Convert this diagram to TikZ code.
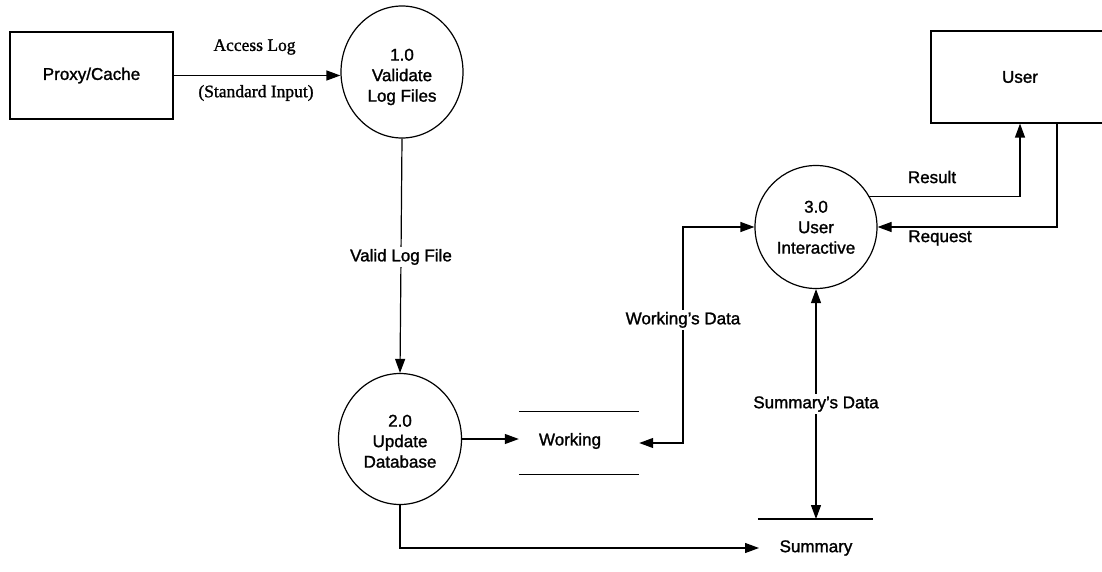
\documentclass[tikz,border=0pt]{standalone}
\usepackage{fontspec}
\setmainfont{Liberation Serif}[UprightFeatures={FakeBold=1.2}]
\setsansfont{Liberation Sans}[UprightFeatures={FakeBold=1.4}]
\usetikzlibrary{shapes.geometric,arrows.meta}
% raises the first line of a process label so its text sits a little low
\newcommand\firstline[1]{\rule{0pt}{#1}}
\begin{document}
\begin{tikzpicture}[x=1pt,y=-1pt,
  every node/.style={font=\sffamily\fontsize{17}{20.5}\selectfont},
  ln/.style={line width=1.2pt},
  tip/.tip={Triangle[length=14pt,width=10pt]},
  flow/.style={ln,-tip},
  both/.style={ln,tip-tip},
  proc/.style={ellipse,draw,line width=1.2pt,inner sep=0pt,align=center},
  ext/.style={rectangle,draw,line width=1.2pt,inner sep=0pt},
  store/.style={rectangle,inner sep=0pt},
  lbl/.style={fill=white,inner sep=2pt},
  serif/.style={font=\rmfamily\fontsize{17.5}{21}\selectfont}]
\useasboundingbox (0,0) rectangle (1102,572);

% external entities
\node[ext,minimum width=163pt,minimum height=87pt] (PC) at (91.5,75.5) {Proxy/Cache};
\node[ext,minimum width=178pt,minimum height=92pt] (U) at (1020,77) {User};

% processes
\node[proc,minimum width=122pt,minimum height=132pt] (P1) at (402,72)
  {\firstline{24.4pt}1.0\\Validate\\Log Files\strut};
\node[proc,minimum width=123pt,minimum height=131pt] (P2) at (400,439)
  {\firstline{22.4pt}2.0\\Update\\Database\strut};
\node[proc,minimum width=122pt,minimum height=123pt] (P3) at (816,227)
  {\firstline{18.4pt}3.0\\User\\Interactive\strut};

% data stores
\node[store,minimum width=120pt,minimum height=62pt] (W) at (579,443) {};
\draw[ln] (W.north west) -- (W.north east);
\draw[ln] (W.south west) -- (W.south east);
\node (Wt) at (570,441) {Working};

\node[store,minimum width=115pt,minimum height=0pt] (S) at (815.5,519) {};
\draw[ln] (S.west) -- (S.east);
\node (St) at (816,548) {Summary};
\coordinate (Sin) at (759,548);

% flows
\draw[flow] (PC.east) -- (PC.east -| P1.west);
\node[serif] (al) at (254.5,47) {Access Log};
\node[serif] (si) at (256,93) {(Standard Input)};

\draw[flow] (P1.south) -- node[lbl,pos=0.505] (vl) {Valid Log File} (P2.north);

\draw[flow] (P2.east) -- (P2.east -| W.west);
\draw[flow] (P2.south) |- (Sin);

\draw[both] (W.east) -- (683,443) -- node[lbl,pos=0.57] (wd) {Working's Data} (683,227) -- (P3.west);
\draw[both] (S.center -| P3.south) -- node[lbl,pos=0.5] (sd) {Summary's Data} (P3.south);

\draw[flow] (P3.30) -| (U.south);
\node (rs) at (932,177) {Result};
\draw[flow] ([xshift=37pt]U.south) |- (P3.east);
\node (rq) at (940,238) {Request};
\end{tikzpicture}
\end{document}
